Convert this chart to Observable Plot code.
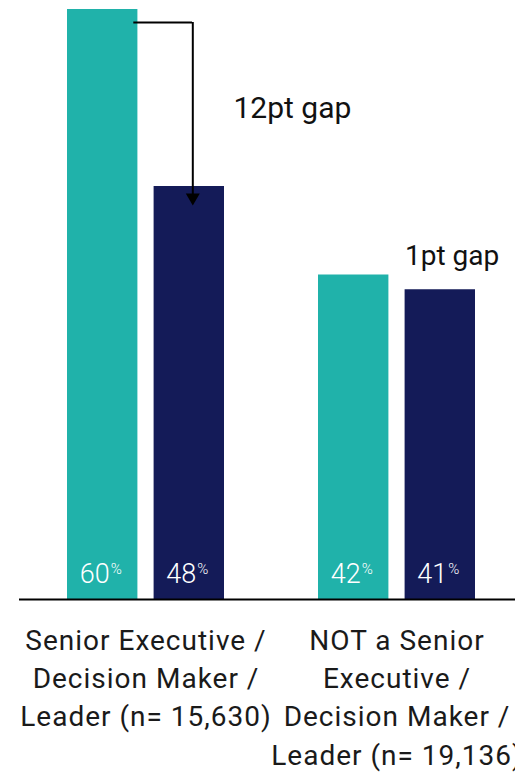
<!DOCTYPE html>
<html><head><meta charset="utf-8">
<script src="https://cdn.jsdelivr.net/npm/d3@7"></script>
<script src="https://cdn.jsdelivr.net/npm/@observablehq/plot@0.6"></script>
<style>
body{margin:0;background:#fff;}
.xlab text{letter-spacing:1px;}
</style></head><body><div id="chart"></div>
<script>
const groups = [
  "Senior Executive /\nDecision Maker /\nLeader (n= 15,630)",
  "NOT a Senior\nExecutive /\nDecision Maker /\nLeader (n= 19,136)"
];
const series = ["A", "B"];
const valuesA = [60, 42];
const valuesB = [48, 41];
const gapLabels = ["12pt gap", "1pt gap"];
const colors = ["#20B2AA", "#141B58"];
const yDomain = [20, 60];

const dataA = groups.map((g, i) => ({group: g, series: series[0], value: valuesA[i]}));
const dataB = groups.map((g, i) => ({group: g, series: series[1], value: valuesB[i]}));
const gap0 = [{group: groups[0], from: valuesA[0], to: valuesB[0], label: gapLabels[0]}];
const gap1 = [{group: groups[1], from: valuesA[1], to: valuesB[1], label: gapLabels[1]}];

// band geometry: each group band holds two bars with a small gap
const barInset = 86.6;   // px removed from the other side of each group band
const half = 43.3;       // offset from group centre to each bar centre

const valueMarks = (d, off) => [
  Plot.text(d, {x: "group", text: v => String(v.value), frameAnchor: "bottom", lineAnchor: "middle", fill: "#fff", fontSize: 27, fontWeight: 300, dx: off - 8, dy: -25}),
  Plot.text(d, {x: "group", text: () => "%", frameAnchor: "bottom", lineAnchor: "middle", textAnchor: "start", fill: "#fff", fontSize: 15, fontWeight: 300, dx: off + 8, dy: -30})
];

const chart = Plot.plot({
  width: 515,
  height: 774,
  marginTop: 9,
  marginBottom: 175,
  marginLeft: 19,
  marginRight: 0,
  style: {fontFamily: "Roboto, sans-serif", background: "#fff"},
  x: {domain: groups, paddingInner: 0.373, paddingOuter: 0.1725, align: 0.55, label: null, axis: null},
  y: {domain: yDomain, axis: null},
  color: {domain: series, range: colors},
  marks: [
    Plot.barY(dataA, {x: "group", y1: yDomain[0], y2: "value", fill: "series", insetRight: barInset}),
    Plot.barY(dataB, {x: "group", y1: yDomain[0], y2: "value", fill: "series", insetLeft: barInset}),
    Plot.ruleY([yDomain[0]], {stroke: "#000", strokeWidth: 2}),
    ...valueMarks(dataA, -half),
    ...valueMarks(dataB, half),
    Plot.ruleY(gap0, {x1: "group", x2: "group", y: "from", insetLeft: 66.3, insetRight: 32, dy: 13, stroke: "#000", strokeWidth: 2}),
    Plot.ruleX(gap0, {x: "group", y1: "from", y2: "to", insetTop: 13, insetBottom: -8, dx: half + 3.5, stroke: "#000", strokeWidth: 2}),
    Plot.dot(gap0, {x: "group", y: "to", symbol: "triangle", rotate: 180, r: 5.2, fill: "#000", stroke: "none", dx: half + 3.5, dy: 11}),
    Plot.text(gap0, {x: "group", y: d => (d.from + d.to) / 2, text: "label", textAnchor: "start", fontSize: 30, fill: "#111", dx: 87.5, dy: 10}),
    Plot.text(gap1, {x: "group", y: "to", text: "label", textAnchor: "start", fontSize: 28, fill: "#111", dx: 8, dy: -34}),
    Plot.axisX({anchor: "bottom", tickSize: 0, tickPadding: 23, fontSize: 28, lineHeight: 1.37, label: null, fill: "#1a1a1a", className: "xlab"})
  ]
});
document.getElementById("chart").appendChild(chart);
</script></body></html>
